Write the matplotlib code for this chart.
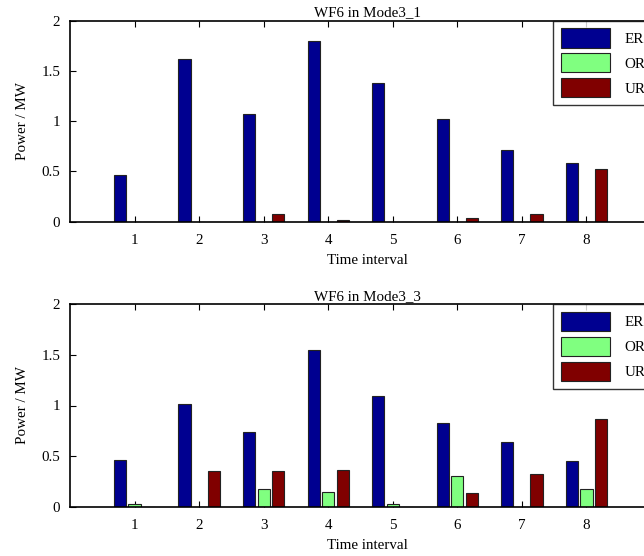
import matplotlib
matplotlib.use("Agg")
import matplotlib.pyplot as plt
import numpy as np
from matplotlib.patches import Patch

plt.rcParams['font.family'] = ['Liberation Serif', 'DejaVu Serif']

intervals = [1, 2, 3, 4, 5, 6, 7, 8]
series_names = ["ER", "OR", "UR"]
colors = ["#000090", "#80FF80", "#800000"]

titles = ["WF6 in Mode3_1", "WF6 in Mode3_3"]
er_1 = [0.468, 1.62, 1.07, 1.795, 1.38, 1.02, 0.71, 0.58]
or_1 = [0, 0, 0, 0, 0, 0, 0, 0]
ur_1 = [0, 0, 0.08, 0.017, 0, 0.034, 0.08, 0.524]
er_3 = [0.46, 1.015, 0.735, 1.545, 1.094, 0.824, 0.642, 0.45]
or_3 = [0.023, 0, 0.17, 0.148, 0.023, 0.306, 0, 0.17]
ur_3 = [0, 0.353, 0.353, 0.363, 0, 0.138, 0.32, 0.87]
yticks = [0, 0.5, 1, 1.5, 2]
ytick_labels = ["0", "0.5", "1", "1.5", "2"]

W, H = 644, 556
fig = plt.figure(figsize=(W/100, H/100), dpi=100)

axes_px = [(70, 20.7, 651, 221.7), (70, 304.3, 651, 506.7)]
data = [(er_1, or_1, ur_1), (er_3, or_3, ur_3)]

x = np.array(intervals, dtype=float)
offsets = [-0.225, 0.0, 0.225]
bw = 0.19
fs = 10.8

for (l, t, r, b), title, vals in zip(axes_px, titles, data):
    ax = fig.add_axes([l/W, 1 - b/H, (r-l)/W, (b-t)/H])
    for off, v, c in zip(offsets, vals, colors):
        ax.bar(x + off, v, width=bw, color=c, edgecolor="#222222", linewidth=0.8, zorder=2)
    ax.set_xlim(0, 9)
    ax.set_ylim(0, 2)
    ax.set_xticks(intervals)
    ax.set_xticklabels([str(i) for i in intervals])
    ax.set_yticks(yticks)
    ax.set_yticklabels(ytick_labels)
    ax.tick_params(direction='in', top=True, right=True, length=4, width=0.8,
                   labelsize=fs)
    ax.tick_params(axis='x', pad=9)
    ax.tick_params(axis='y', pad=7)
    for s in ax.spines.values():
        s.set_linewidth(1.2)
    ax.set_title(title, fontsize=fs, pad=3, x=0.512)
    ax.set_xlabel("Time interval", fontsize=fs)
    ax.xaxis.set_label_coords(0.512, -0.16)
    ax.set_ylabel("Power / MW", fontsize=fs, labelpad=9)
    handles = [Patch(facecolor=c, edgecolor="#222222", linewidth=0.8) for c in colors]
    leg = ax.legend(handles, series_names, loc='upper left',
                    bbox_to_anchor=((553 - l)/(r - l), 1.0),
                    fontsize=fs, frameon=True, fancybox=False,
                    handlelength=3.33, handleheight=1.61, handletextpad=0.93,
                    labelspacing=0.37, borderpad=0.5, borderaxespad=0)
    leg.get_frame().set_edgecolor('black')
    leg.get_frame().set_linewidth(1.0)

fig.savefig("out.png", dpi=100)
